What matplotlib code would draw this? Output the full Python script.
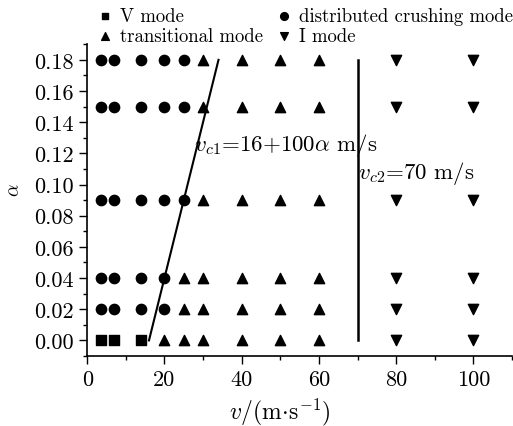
import matplotlib
matplotlib.use("Agg")
import matplotlib.pyplot as plt
from matplotlib.ticker import MultipleLocator

plt.rcParams['font.family'] = 'cmr10'
plt.rcParams['mathtext.fontset'] = 'cm'
plt.rcParams['axes.formatter.use_mathtext'] = True
plt.rcParams['font.size'] = 16

# V mode (squares)
v_mode_v = [3.5, 7, 14]
v_mode_a = [0.0, 0.0, 0.0]

# distributed crushing mode (circles)
dist_v = [3.5, 7, 14, 20, 3.5, 7, 14, 20, 3.5, 7, 14, 20, 25, 3.5, 7, 14, 20, 25, 3.5, 7, 14, 20, 25]
dist_a = [0.02] * 4 + [0.04] * 4 + [0.09] * 5 + [0.15] * 5 + [0.18] * 5

# transitional mode (up triangles)
trans_v = [20, 25, 30, 40, 50, 60,
           25, 30, 40, 50, 60,
           25, 30, 40, 50, 60,
           30, 40, 50, 60,
           30, 40, 50, 60,
           30, 40, 50, 60]
trans_a = [0.0] * 6 + [0.02] * 5 + [0.04] * 5 + [0.09] * 4 + [0.15] * 4 + [0.18] * 4

# I mode (down triangles)
i_v = [80, 100] * 6
i_a = [0.0, 0.0, 0.02, 0.02, 0.04, 0.04, 0.09, 0.09, 0.15, 0.15, 0.18, 0.18]

# critical lines
vc1_v = [16, 34]
vc1_a = [0.0, 0.18]
vc2_v = [70, 70]
vc2_a = [0.0, 0.18]

xticks = [0, 20, 40, 60, 80, 100]
yticks = [0.00, 0.02, 0.04, 0.06, 0.08, 0.10, 0.12, 0.14, 0.16, 0.18]

fig = plt.figure(figsize=(5.13, 4.27), dpi=100)
ax = fig.add_axes([0.170, 0.164, 0.828, 0.730])

ms = 55
ax.scatter(v_mode_v, v_mode_a, marker='s', s=42, c='k', label='V mode')
ax.scatter(trans_v, trans_a, marker='^', s=ms, c='k', label='transitional mode')
ax.scatter(dist_v, dist_a, marker='o', s=ms, c='k', label='distributed crushing mode')
ax.scatter(i_v, i_a, marker='v', s=ms, c='k', label='I mode')

ax.plot(vc1_v, vc1_a, color='k', lw=1.5)
ax.plot(vc2_v, vc2_a, color='k', lw=1.8)

ax.text(27.6, 0.1255, r'$v_{c1}$=16+100$\alpha$ m/s', ha='left', va='center', fontsize=16.5)
ax.text(70.1, 0.108, r'$v_{c2}$=70 m/s', ha='left', va='center', fontsize=16.5)

ax.set_xlim(0, 110)
ax.set_ylim(-0.01, 0.19)
ax.set_xticks(xticks)
ax.set_xticklabels([str(t) for t in xticks])
ax.set_yticks(yticks)
ax.set_yticklabels(['%.2f' % t for t in yticks])
ax.xaxis.set_minor_locator(MultipleLocator(10))
ax.yaxis.set_minor_locator(MultipleLocator(0.01))
ax.tick_params(which='major', direction='out', length=6, width=1, labelsize=16, pad=4)
ax.tick_params(which='minor', direction='out', length=3, width=1)

ax.spines['top'].set_visible(False)
ax.spines['right'].set_visible(False)
ax.spines['left'].set_linewidth(1.2)
ax.spines['bottom'].set_linewidth(1.2)

ax.set_xlabel(r'$v/(\mathrm{m}\!\cdot\!\mathrm{s}^{-1})$', fontsize=17)
ax.set_ylabel(r'$\alpha$', fontsize=14)
ax.yaxis.set_label_coords(-0.151, 0.535)
ax.xaxis.set_label_coords(0.453, -0.127)

fig.legend(loc='upper left', bbox_to_anchor=(0.168, 1.004), ncol=2, frameon=False,
           fontsize=13.5, borderpad=0, handlelength=1.0, handletextpad=0.3,
           columnspacing=0.6, labelspacing=0.15, markerscale=0.75)

fig.savefig('out.png', dpi=100)
